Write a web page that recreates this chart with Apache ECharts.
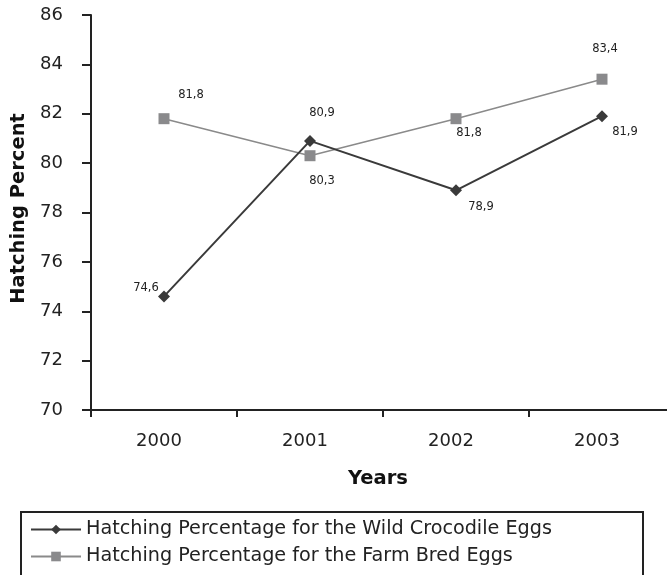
<!DOCTYPE html>
<html><head><meta charset="utf-8">
<script src="https://cdn.jsdelivr.net/npm/echarts@6/dist/echarts.min.js"></script>
<style>html,body{margin:0;padding:0;background:#fff}#c{width:667px;height:575px}</style>
</head><body><div id="c"></div>
<script>
const years = ['2000', '2001', '2002', '2003'];
const wildEggs = [74.6, 80.9, 78.9, 81.9];
const farmEggs = [81.8, 80.3, 81.8, 83.4];
const wildName = 'Hatching Percentage for the Wild Crocodile Eggs';
const farmName = 'Hatching Percentage for the Farm Bred Eggs';

// label placement (style only)
const wildOffsets = [[-18, -8], [12, -28], [25, 17], [23, 16]];
const farmOffsets = [[27, -24], [12, 25], [13, 14], [3, -30]];

const FONT = 'DejaVu Sans';
function mk(values, offsets) {
  return values.map((v, i) => ({
    value: v,
    label: { show: true, position: 'inside', offset: offsets[i] }
  }));
}
const lbl = {
  show: true, fontFamily: FONT, fontSize: 11.5, color: '#222',
  formatter: p => String(p.value).replace('.', ',')
};
const legendText = { fontFamily: FONT, fontSize: 19.2, color: '#222' };
const chart = echarts.init(document.getElementById('c'), null, { renderer: 'canvas' });
chart.setOption({
  animation: false,
  backgroundColor: '#fff',
  textStyle: { fontFamily: FONT },
  grid: { left: 91, top: 15, height: 395, width: 584, containLabel: false, outerBoundsMode: 'none' },
  graphic: [{
    type: 'rect', shape: { x: 21, y: 512, width: 622, height: 80 },
    style: { fill: 'none', stroke: '#222', lineWidth: 2 }, z: 0
  }],
  legend: [
    {
      orient: 'vertical', left: 30, top: 520, padding: 0, itemWidth: 50, itemHeight: 12,
      textStyle: legendText, data: [wildName]
    },
    {
      orient: 'vertical', left: 30, top: 547, padding: 0, itemWidth: 50, itemHeight: 12,
      textStyle: legendText, data: [farmName]
    }
  ],
  xAxis: {
    type: 'category', data: years, boundaryGap: true,
    name: 'Years', nameLocation: 'middle', nameGap: 59,
    nameTextStyle: { fontFamily: FONT, fontSize: 19.5, fontWeight: 'bold', color: '#111', padding: [0, 10, 0, 0] },
    axisLine: { lineStyle: { color: '#222', width: 2 } },
    axisTick: { show: true, length: 7, lineStyle: { color: '#222', width: 2 } },
    axisLabel: { margin: 22, fontFamily: FONT, fontSize: 18, color: '#222', padding: [0, 10, 0, 0] },
    splitLine: { show: false }
  },
  yAxis: {
    type: 'value', min: 70, max: 86, interval: 2,
    name: 'Hatching Percent', nameLocation: 'middle', nameGap: 62, nameRotate: 90,
    nameTextStyle: { fontFamily: FONT, fontSize: 19.5, fontWeight: 'bold', color: '#111', padding: [0, 0, 0, 8] },
    axisLine: { show: true, lineStyle: { color: '#222', width: 2 } },
    axisTick: { show: true, length: 9, lineStyle: { color: '#222', width: 2 } },
    axisLabel: { margin: 28, fontFamily: FONT, fontSize: 18, color: '#222' },
    splitLine: { show: false }
  },
  series: [
    {
      name: wildName, type: 'line', data: mk(wildEggs, wildOffsets),
      symbol: 'diamond', symbolSize: 12, showAllSymbol: true,
      lineStyle: { color: '#3a3a3a', width: 2 },
      itemStyle: { color: '#3a3a3a' },
      label: lbl, z: 3
    },
    {
      name: farmName, type: 'line', data: mk(farmEggs, farmOffsets),
      symbol: 'rect', symbolSize: 11, showAllSymbol: true,
      lineStyle: { color: '#8a8a8a', width: 1.5 },
      itemStyle: { color: '#8a8a8c' },
      label: lbl, z: 2
    }
  ]
});
</script></body></html>
